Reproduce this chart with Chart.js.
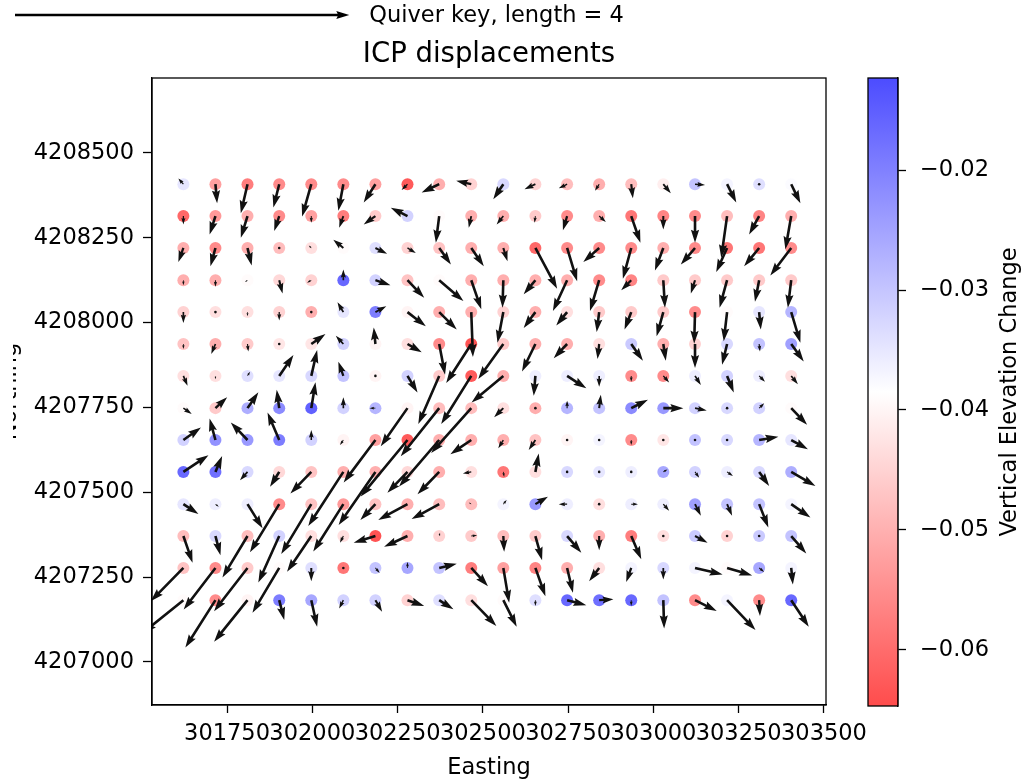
<!DOCTYPE html>
<html>
<head>
<meta charset="utf-8">
<script src="https://cdn.jsdelivr.net/npm/chart.js@4.4.0/dist/chart.umd.min.js"></script>
<style>
  body { margin: 0; background: #fff; }
  #wrap { position: relative; width: 1029px; height: 780px; overflow: hidden; background: #fff; }
  #main { position: absolute; left: 13px; top: 0; }
  #cbar { position: absolute; left: 850px; top: 0; }
</style>
</head>
<body>
<div id="wrap">
  <canvas id="main" width="1016" height="780"></canvas>
  <canvas id="cbar" width="179" height="780"></canvas>
</div>
<script>
// grid of ICP sample points (UTM metres)
const eastings = [301622, 301716, 301810, 301903, 301997, 302091, 302185, 302279, 302372, 302466,
                  302560, 302654, 302747, 302841, 302935, 303029, 303122, 303216, 303310, 303404];
const northings = [4208408, 4208314, 4208220, 4208125, 4208031, 4207937, 4207843,
                   4207748, 4207654, 4207560, 4207465, 4207371, 4207277, 4207182];

const xTicks = [301750, 302000, 302250, 302500, 302750, 303000, 303250, 303500];
const yTicks = [4207000, 4207250, 4207500, 4207750, 4208000, 4208250, 4208500];
const cbTicks = [-0.06, -0.05, -0.04, -0.03, -0.02];

// horizontal displacement, east component (one row per northing, top row first)
const U = [
  [-0.06, 0.02, -0.08, -0.07, -0.11, -0.06, -0.14, -0.07, -0.21, -0.18, -0.12, -0.13, -0.10, -0.05, 0.02, 0.09, 0.12, 0.11, 0.00, 0.11],
  [0.00, -0.07, -0.08, -0.06, 0.00, -0.05, -0.14, -0.20, -0.04, -0.03, -0.08, -0.01, -0.05, 0.08, 0.11, 0.00, 0.00, -0.07, -0.12, -0.07],
  [-0.06, -0.06, 0.05, 0.00, -0.03, -0.12, 0.14, 0.10, 0.14, 0.15, 0.05, 0.26, 0.12, -0.19, -0.10, -0.10, -0.17, -0.13, -0.18, -0.25],
  [0.00, 0.00, -0.03, 0.04, -0.05, 0.00, 0.18, 0.20, 0.29, 0.12, -0.01, -0.14, -0.17, -0.11, -0.12, 0.02, -0.05, -0.09, -0.05, -0.04],
  [0.00, 0.00, 0.00, 0.00, 0.00, -0.07, 0.13, 0.22, 0.21, 0.02, -0.07, -0.14, -0.13, -0.03, -0.08, -0.08, -0.01, -0.04, 0.02, 0.11],
  [0.00, -0.05, 0.01, 0.01, 0.17, -0.09, -0.02, 0.17, 0.07, -0.30, -0.30, -0.16, -0.16, -0.02, 0.14, 0.03, 0.00, -0.06, 0.01, 0.15],
  [0.05, 0.00, 0.03, 0.17, 0.07, -0.06, 0.00, 0.12, -0.25, -0.36, -0.38, -0.02, 0.23, 0.00, 0.00, 0.07, 0.07, 0.08, 0.07, 0.08],
  [0.10, 0.14, 0.13, -0.03, 0.05, 0.00, -0.07, -0.32, -0.46, -0.48, -0.11, 0.00, 0.00, 0.02, 0.20, 0.24, 0.14, 0.00, 0.06, 0.19],
  [0.21, -0.07, -0.20, -0.14, 0.00, -0.04, -0.38, -0.56, -0.48, -0.25, -0.06, -0.08, 0.00, 0.00, 0.00, 0.00, 0.00, 0.00, 0.23, 0.20],
  [0.30, 0.08, -0.09, -0.11, -0.25, -0.42, -0.44, -0.24, -0.26, -0.10, 0.01, 0.04, 0.00, 0.00, 0.00, 0.05, 0.05, 0.07, 0.12, 0.29],
  [0.18, 0.04, 0.18, -0.35, -0.36, -0.36, -0.18, -0.35, -0.33, -0.03, 0.04, 0.15, -0.10, 0.00, 0.08, 0.07, 0.07, 0.06, 0.11, 0.23],
  [0.11, 0.06, -0.30, -0.25, -0.29, -0.04, -0.26, -0.28, 0.01, 0.07, 0.01, 0.08, 0.17, 0.00, 0.12, 0.00, 0.15, -0.02, 0.00, 0.18],
  [-0.39, -0.38, -0.40, -0.32, 0.00, 0.00, 0.05, 0.00, 0.21, 0.20, 0.07, 0.12, 0.07, -0.12, -0.06, 0.00, 0.33, 0.30, 0.06, 0.02],
  [-0.48, -0.36, -0.40, 0.06, 0.07, -0.05, 0.08, 0.20, 0.17, 0.30, 0.16, 0.00, 0.23, 0.17, 0.00, 0.01, 0.26, 0.34, 0.01, 0.21]
];

// north component
const V = [
  [0.07, -0.23, -0.35, -0.28, -0.39, -0.32, -0.22, -0.07, -0.10, 0.04, -0.18, -0.06, -0.05, -0.08, -0.17, -0.11, -0.01, -0.22, -0.02, -0.23],
  [-0.10, -0.22, -0.26, -0.18, -0.08, -0.14, -0.10, 0.10, -0.32, -0.14, -0.10, -0.08, -0.17, -0.07, -0.32, -0.16, -0.32, -0.50, -0.22, -0.40],
  [-0.17, -0.22, -0.21, -0.02, 0.03, 0.10, -0.07, -0.06, -0.20, -0.22, -0.16, -0.49, -0.40, -0.17, -0.37, -0.27, -0.20, -0.29, -0.22, -0.33],
  [-0.06, -0.08, -0.02, -0.16, -0.03, 0.13, -0.06, -0.21, -0.25, -0.35, -0.33, -0.17, -0.37, -0.37, -0.12, -0.33, -0.16, -0.33, -0.26, -0.33],
  [-0.13, -0.02, -0.05, -0.10, -0.01, 0.12, 0.07, -0.17, -0.21, -0.54, -0.37, -0.19, -0.16, -0.24, -0.21, -0.29, -0.38, -0.35, -0.21, -0.37],
  [-0.06, -0.12, -0.09, 0.00, 0.12, 0.10, 0.20, -0.10, -0.37, -0.47, -0.42, -0.33, -0.17, -0.18, -0.20, -0.20, -0.29, -0.25, -0.09, -0.21],
  [-0.12, -0.04, 0.05, 0.25, 0.31, 0.17, 0.02, -0.20, -0.58, -0.58, -0.32, -0.24, -0.15, -0.13, -0.07, -0.08, -0.11, -0.20, -0.07, -0.10],
  [-0.07, 0.13, 0.19, 0.22, 0.31, 0.13, 0.00, -0.46, -0.58, -0.54, -0.11, -0.02, 0.09, 0.16, 0.10, 0.00, -0.03, 0.00, 0.06, -0.20],
  [0.15, 0.26, 0.21, 0.33, 0.12, -0.06, -0.51, -0.68, -0.56, -0.17, -0.10, -0.12, 0.00, 0.01, -0.06, 0.01, 0.03, 0.01, 0.04, -0.11],
  [0.20, 0.19, -0.10, -0.18, -0.26, -0.65, -0.64, -0.25, -0.27, -0.02, -0.06, 0.22, 0.00, 0.01, 0.00, 0.03, -0.07, -0.05, -0.17, -0.17],
  [-0.12, -0.03, -0.29, -0.58, -0.60, -0.57, -0.19, -0.19, -0.18, 0.02, 0.05, 0.09, 0.00, -0.01, 0.00, -0.08, -0.14, -0.14, -0.28, -0.16],
  [-0.32, -0.23, -0.50, -0.56, -0.43, -0.08, -0.08, -0.13, 0.04, 0.01, -0.19, -0.29, -0.20, -0.17, -0.28, -0.03, -0.08, 0.00, 0.02, -0.21],
  [-0.40, -0.50, -0.52, -0.54, -0.16, -0.02, -0.06, 0.07, 0.05, -0.22, -0.42, -0.34, -0.30, -0.16, -0.17, -0.14, -0.08, -0.09, -0.05, -0.20],
  [-0.39, -0.57, -0.50, -0.24, -0.32, -0.10, -0.14, -0.07, -0.11, -0.31, -0.32, -0.07, -0.06, 0.01, -0.07, -0.34, -0.13, -0.36, -0.19, -0.32]
];

// vertical elevation change at each point
const C = [
  [-0.035, -0.052, -0.057, -0.055, -0.055, -0.055, -0.052, -0.062, -0.050, -0.045, -0.033, -0.045, -0.048, -0.050, -0.048, -0.041, -0.030, -0.037, -0.034, -0.038],
  [-0.060, -0.053, -0.050, -0.055, -0.052, -0.057, -0.046, -0.032, -0.039, -0.050, -0.050, -0.046, -0.055, -0.050, -0.058, -0.056, -0.055, -0.048, -0.056, -0.050],
  [-0.050, -0.055, -0.050, -0.048, -0.043, -0.039, -0.034, -0.045, -0.047, -0.050, -0.050, -0.060, -0.055, -0.055, -0.055, -0.050, -0.055, -0.058, -0.058, -0.055],
  [-0.050, -0.050, -0.039, -0.044, -0.045, -0.017, -0.032, -0.047, -0.039, -0.050, -0.050, -0.050, -0.050, -0.055, -0.056, -0.046, -0.046, -0.046, -0.046, -0.046],
  [-0.045, -0.043, -0.043, -0.045, -0.050, -0.035, -0.020, -0.040, -0.050, -0.050, -0.045, -0.050, -0.043, -0.046, -0.046, -0.046, -0.055, -0.039, -0.035, -0.028],
  [-0.047, -0.050, -0.046, -0.042, -0.042, -0.032, -0.040, -0.043, -0.055, -0.063, -0.046, -0.050, -0.050, -0.043, -0.031, -0.050, -0.045, -0.033, -0.030, -0.025],
  [-0.043, -0.043, -0.034, -0.035, -0.033, -0.030, -0.040, -0.032, -0.046, -0.062, -0.050, -0.036, -0.036, -0.036, -0.055, -0.055, -0.036, -0.032, -0.036, -0.043],
  [-0.039, -0.046, -0.027, -0.022, -0.016, -0.032, -0.028, -0.040, -0.048, -0.048, -0.043, -0.050, -0.028, -0.030, -0.022, -0.024, -0.032, -0.033, -0.032, -0.039],
  [-0.032, -0.023, -0.024, -0.020, -0.032, -0.040, -0.052, -0.062, -0.050, -0.050, -0.050, -0.047, -0.040, -0.037, -0.055, -0.042, -0.030, -0.033, -0.028, -0.035],
  [-0.017, -0.018, -0.033, -0.044, -0.047, -0.050, -0.050, -0.044, -0.050, -0.043, -0.058, -0.043, -0.033, -0.035, -0.036, -0.026, -0.032, -0.036, -0.033, -0.027],
  [-0.035, -0.036, -0.036, -0.055, -0.047, -0.053, -0.047, -0.050, -0.048, -0.048, -0.037, -0.024, -0.036, -0.043, -0.036, -0.036, -0.025, -0.030, -0.030, -0.037],
  [-0.048, -0.033, -0.048, -0.032, -0.043, -0.043, -0.063, -0.050, -0.045, -0.046, -0.048, -0.046, -0.033, -0.050, -0.057, -0.043, -0.031, -0.045, -0.031, -0.030],
  [-0.047, -0.055, -0.046, -0.039, -0.034, -0.058, -0.030, -0.026, -0.030, -0.057, -0.052, -0.056, -0.050, -0.043, -0.037, -0.033, -0.037, -0.039, -0.026, -0.037],
  [-0.039, -0.055, -0.040, -0.020, -0.026, -0.032, -0.032, -0.045, -0.034, -0.043, -0.039, -0.034, -0.017, -0.018, -0.017, -0.030, -0.055, -0.037, -0.055, -0.017]
];

const cMin = -0.0647, cMax = -0.0123;
const KEY_LENGTH = 4;
const M_PER_UNIT = 245;   // map metres drawn per unit of displacement
const FONT = 'DejaVu Sans';
Chart.defaults.font.family = FONT;
Chart.defaults.color = '#000';

// matplotlib-style bwr, reversed so low values are red
function bwrR(c, a) {
  let t = (c - cMin) / (cMax - cMin);
  t = Math.max(0, Math.min(1, t));
  let r, g, b;
  if (t < 0.5) { r = 1; g = b = 2 * t; } else { b = 1; r = g = 2 * (1 - t); }
  return `rgba(${Math.round(r * 255)},${Math.round(g * 255)},${Math.round(b * 255)},${a})`;
}

const pts = [], colors = [], vecs = [];
northings.forEach((n, j) => {
  eastings.forEach((e, i) => {
    pts.push({ x: e, y: n });
    colors.push(bwrR(C[j][i], 0.72));
    vecs.push([U[j][i], V[j][i]]);
  });
});

function drawArrow(ctx, x0, y0, x1, y1) {
  const dx = x1 - x0, dy = y1 - y0;
  const L = Math.hypot(dx, dy);
  ctx.save();
  ctx.translate(x0, y0);
  if (L < 2.5) {
    ctx.beginPath();
    ctx.arc(0, 0, 1.3, 0, Math.PI * 2);
    ctx.fill();
    ctx.restore();
    return;
  }
  ctx.rotate(Math.atan2(dy, dx));
  let s = 1;
  if (L < 17) s = L / 17;
  const a = 1.3 * s, hl = 13 * s, hal = 11.6 * s, hw = 4.1 * s;
  ctx.beginPath();
  ctx.moveTo(0, -a);
  ctx.lineTo(L - hal, -a);
  ctx.lineTo(L - hl, -hw);
  ctx.lineTo(L, 0);
  ctx.lineTo(L - hl, hw);
  ctx.lineTo(L - hal, a);
  ctx.lineTo(0, a);
  ctx.closePath();
  ctx.fill();
  ctx.restore();
}

const quiverPlugin = {
  id: 'quiver',
  afterDatasetsDraw(chart) {
    const { ctx, chartArea: a, scales: { x, y } } = chart;
    ctx.save();
    ctx.beginPath();
    ctx.rect(a.left, a.top, a.right - a.left, a.bottom - a.top);
    ctx.clip();
    ctx.fillStyle = '#111';
    pts.forEach((p, k) => {
      const [u, v] = vecs[k];
      drawArrow(ctx,
        x.getPixelForValue(p.x), y.getPixelForValue(p.y),
        x.getPixelForValue(p.x + u * M_PER_UNIT), y.getPixelForValue(p.y + v * M_PER_UNIT));
    });
    ctx.restore();
  }
};

const framePlugin = {
  id: 'frame',
  afterDraw(chart) {
    const { ctx, chartArea: a } = chart;
    ctx.save();
    ctx.strokeStyle = '#000';
    ctx.lineWidth = 1.3;
    ctx.strokeRect(a.left, a.top, a.right - a.left, a.bottom - a.top);
    ctx.restore();
  }
};

// reference arrow above the axes
const keyPlugin = {
  id: 'quiverKey',
  afterDraw(chart) {
    const { ctx, scales: { x } } = chart;
    const len = x.getPixelForValue(x.min + KEY_LENGTH * M_PER_UNIT) - x.getPixelForValue(x.min);
    const x0 = 2, yk = 15;
    ctx.save();
    ctx.fillStyle = '#000';
    drawArrow(ctx, x0, yk, x0 + len, yk);
    ctx.font = `22.5px "${FONT}"`;
    ctx.textBaseline = 'middle';
    ctx.fillText('Quiver key, length = ' + KEY_LENGTH, x0 + len + 20, yk + 1);
    ctx.restore();
  }
};

new Chart(document.getElementById('main'), {
  type: 'scatter',
  data: {
    datasets: [{
      data: pts,
      backgroundColor: colors,
      borderWidth: 0,
      pointRadius: 6,
      pointHoverRadius: 6
    }]
  },
  options: {
    responsive: false,
    animation: false,
    events: [],
    layout: { padding: { left: 0, right: 203, top: 0, bottom: 0 } },
    plugins: {
      legend: { display: false },
      tooltip: { enabled: false },
      title: {
        display: true,
        text: 'ICP displacements',
        fullSize: false,
        color: '#000',
        font: { size: 27.5, weight: 'normal' },
        padding: { top: 38, bottom: 7 }
      }
    },
    scales: {
      x: {
        type: 'linear',
        min: 301530,
        max: 303506,
        afterBuildTicks: s => { s.ticks = xTicks.map(v => ({ value: v })); },
        afterFit: s => { s.height = 75; },
        ticks: { autoSkip: false, maxRotation: 0, minRotation: 0, font: { size: 22.5 }, padding: 8, callback: v => String(v) },
        grid: { drawOnChartArea: false, tickLength: 8, color: '#000', tickWidth: 1.3 },
        border: { color: '#000', width: 1.3 },
        title: { display: true, text: 'Easting', font: { size: 22.5 }, padding: { top: 0, bottom: -2 } }
      },
      y: {
        type: 'linear',
        min: 4206873,
        max: 4208721,
        afterBuildTicks: s => { s.ticks = yTicks.map(v => ({ value: v })); },
        afterFit: s => { s.width = 139; },
        ticks: { autoSkip: false, font: { size: 22.5 }, padding: 9, callback: v => String(v) },
        grid: { drawOnChartArea: false, tickLength: 9, color: '#000', tickWidth: 1.3 },
        border: { color: '#000', width: 1.3 },
        title: { display: true, text: 'Northing', font: { size: 22.5 }, padding: { top: -16, bottom: 0 } }
      }
    }
  },
  plugins: [quiverPlugin, framePlugin, keyPlugin]
});

// colour bar
function cbGradient(chart) {
  const area = chart.chartArea;
  if (!area) return 'rgba(0,0,0,0)';
  const y = chart.scales.y;
  const g = chart.ctx.createLinearGradient(0, y.getPixelForValue(cMin), 0, y.getPixelForValue(cMax));
  for (let i = 0; i <= 10; i++) {
    const t = i / 10;
    g.addColorStop(t, bwrR(cMin + t * (cMax - cMin), 0.7));
  }
  return g;
}

const cbFrame = {
  id: 'cbFrame',
  afterDraw(chart) {
    const { ctx, chartArea: a } = chart;
    ctx.save();
    ctx.strokeStyle = '#000';
    ctx.lineWidth = 1.3;
    ctx.strokeRect(a.left, a.top, a.right - a.left, a.bottom - a.top);
    ctx.translate(160, (a.top + a.bottom) / 2);
    ctx.rotate(-Math.PI / 2);
    ctx.font = `22.5px "${FONT}"`;
    ctx.textAlign = 'center';
    ctx.textBaseline = 'middle';
    ctx.fillStyle = '#000';
    ctx.fillText('Vertical Elevation Change', 0, 0);
    ctx.restore();
  }
};

new Chart(document.getElementById('cbar'), {
  type: 'bar',
  data: {
    labels: [''],
    datasets: [{
      data: [[cMin, cMax]],
      backgroundColor: ctx => cbGradient(ctx.chart),
      borderWidth: 0,
      borderSkipped: false,
      barPercentage: 1,
      categoryPercentage: 1
    }]
  },
  options: {
    responsive: false,
    animation: false,
    events: [],
    layout: { padding: { left: 18, top: 78, bottom: 74, right: 0 } },
    plugins: { legend: { display: false }, tooltip: { enabled: false } },
    scales: {
      x: { display: false },
      y: {
        position: 'right',
        min: cMin,
        max: cMax,
        afterBuildTicks: s => { s.ticks = cbTicks.map(v => ({ value: v })); },
        afterFit: s => { s.width = 131; },
        ticks: { font: { size: 22.5 }, padding: 14, callback: v => '\u2212' + Math.abs(v).toFixed(2) },
        grid: { drawOnChartArea: false, tickLength: 8, color: '#000', tickWidth: 1.3 },
        border: { color: '#000', width: 1.3 }
      }
    }
  },
  plugins: [cbFrame]
});
</script>
</body>
</html>
